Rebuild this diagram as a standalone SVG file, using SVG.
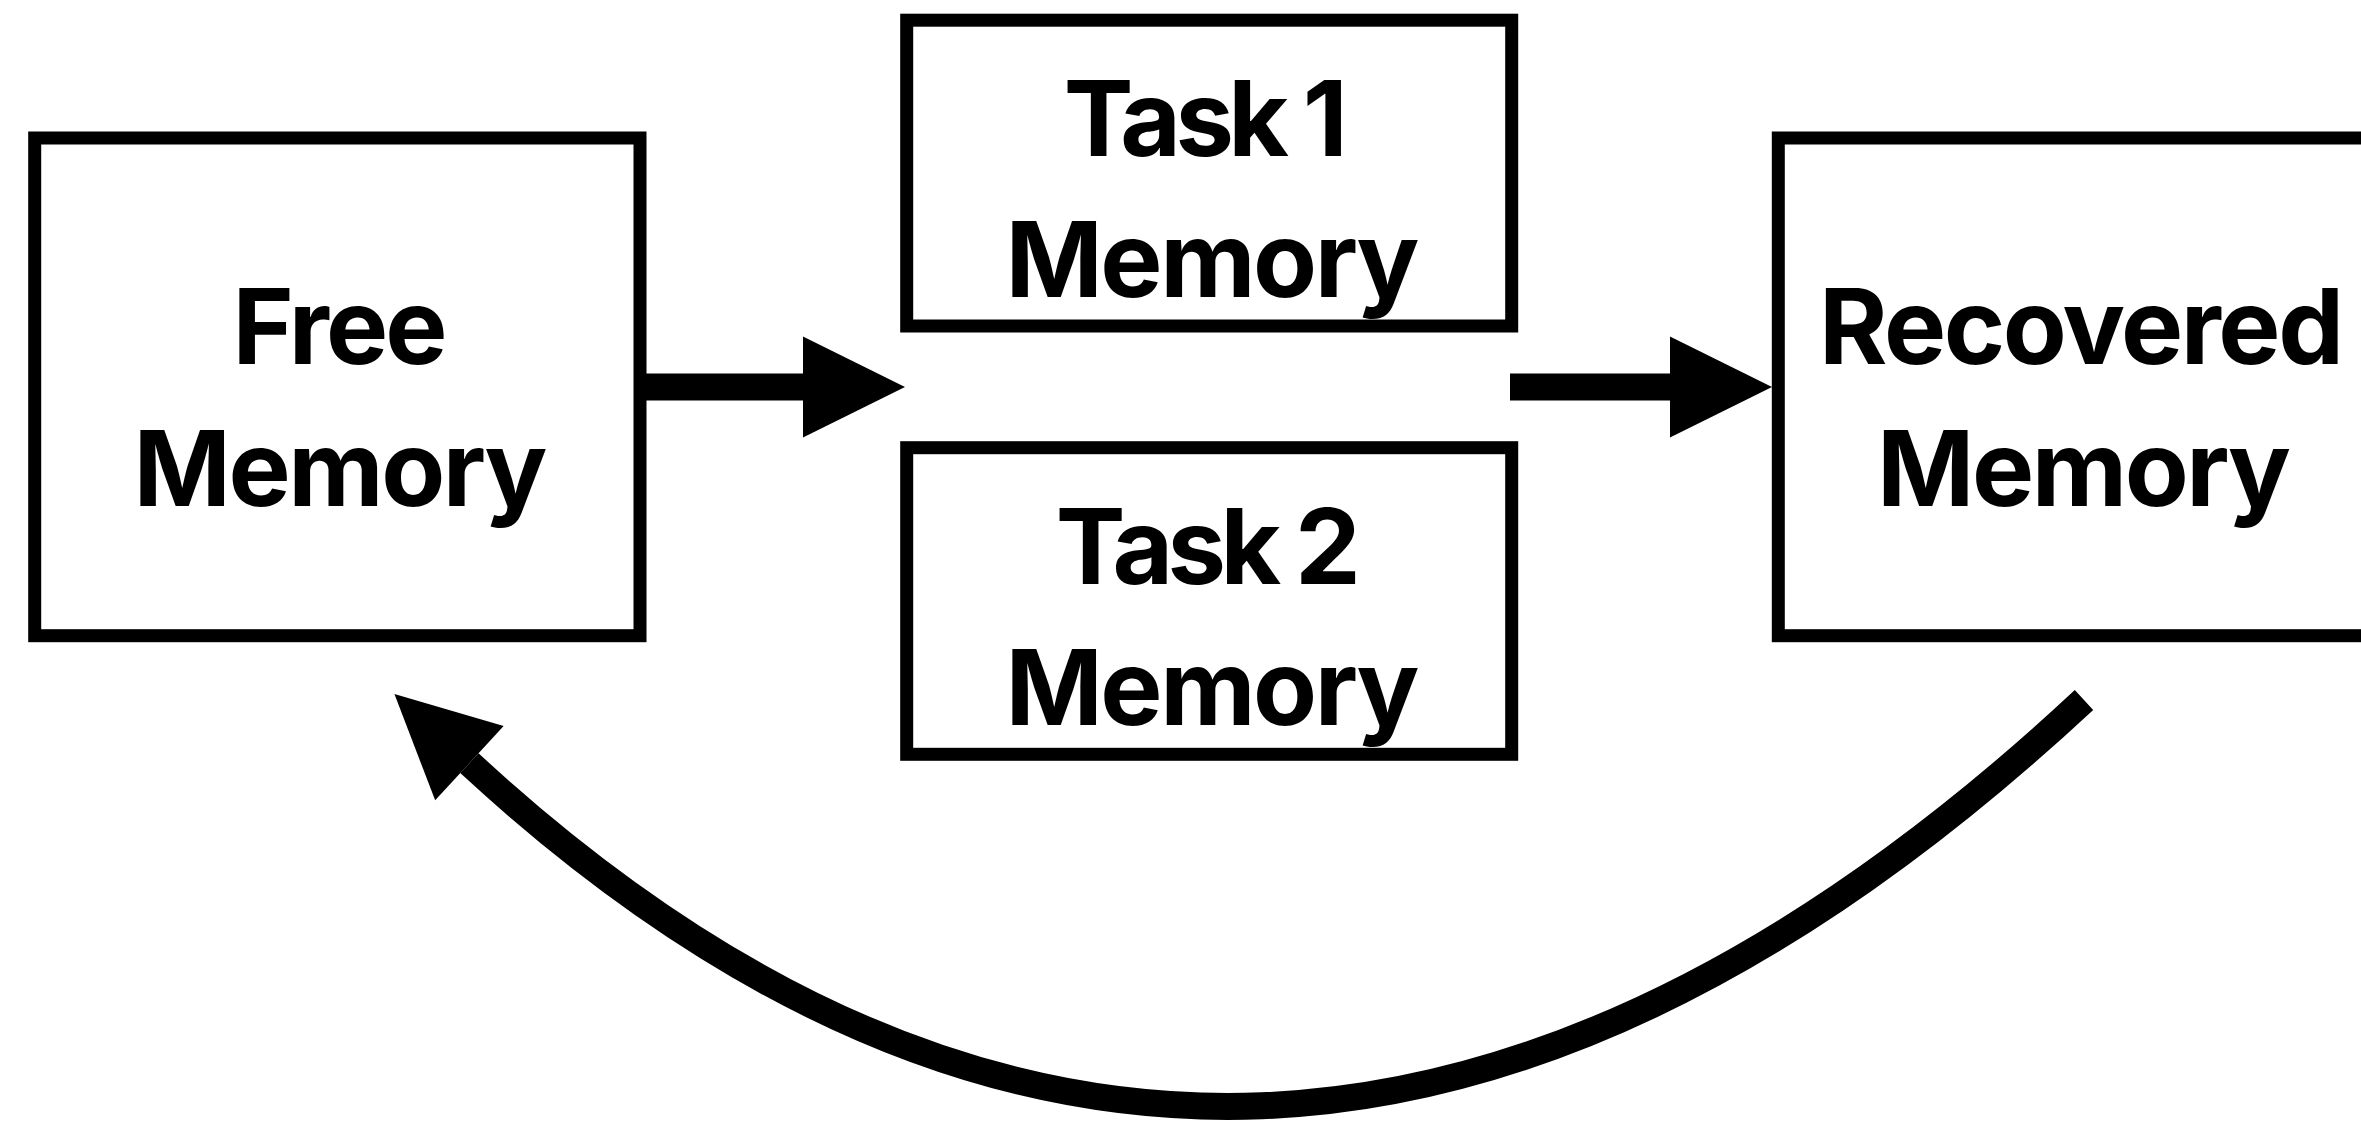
<svg xmlns="http://www.w3.org/2000/svg" width="2361" height="1124" viewBox="0 0 2361 1124">
  <style>
    .box { fill: #ffffff; stroke: #000000; stroke-width: 13; }
    .lbl { font-family: Inter, "Liberation Sans", Arial, sans-serif; font-weight: 700; font-size: 104.5px; fill: #000000; text-anchor: middle; }
    .conn { fill: none; stroke: #000000; stroke-width: 27; stroke-linecap: butt; }
  </style>
  <defs>
    <marker id="ah" markerUnits="userSpaceOnUse" markerWidth="102" markerHeight="101" refX="0" refY="50.5" orient="auto" overflow="visible">
      <path d="M0,0 L102,50.5 L0,101 Z" fill="#000000"/>
    </marker>
  </defs>
  <rect width="2361" height="1124" fill="#ffffff"/>

  <g id="free-memory">
    <rect class="box" x="34.7" y="138" width="605.3" height="497.7"/>
    <text class="lbl" x="340" y="364.3" textLength="215" lengthAdjust="spacing">Free</text>
    <text class="lbl" x="340.5" y="505.7" textLength="414" lengthAdjust="spacing">Memory</text>
  </g>

  <g id="task1-memory">
    <rect class="box" x="906.7" y="20.2" width="605" height="305.8"/>
    <text class="lbl" x="1205.7" y="156" textLength="284" lengthAdjust="spacing">Task 1</text>
    <text class="lbl" x="1212.4" y="297.3" textLength="414" lengthAdjust="spacing">Memory</text>
  </g>

  <g id="task2-memory">
    <rect class="box" x="906.7" y="447.7" width="605" height="306.6"/>
    <text class="lbl" x="1208.3" y="583.7" textLength="305" lengthAdjust="spacing">Task 2</text>
    <text class="lbl" x="1212.4" y="725.1" textLength="414" lengthAdjust="spacing">Memory</text>
  </g>

  <g id="recovered-memory">
    <rect class="box" x="1778.3" y="138" width="605" height="497.7"/>
    <text class="lbl" x="2081.5" y="364.3" textLength="525" lengthAdjust="spacing">Recovered</text>
    <text class="lbl" x="2084" y="505.6" textLength="414" lengthAdjust="spacing">Memory</text>
  </g>

  <g id="connectors">
    <line class="conn" x1="646" y1="387" x2="803" y2="387" marker-end="url(#ah)"/>
    <line class="conn" x1="1510" y1="387" x2="1670" y2="387" marker-end="url(#ah)"/>
    <path class="conn" d="M2084,700 Q1246.5,1480 469.4,763.2" marker-end="url(#ah)"/>
  </g>
</svg>
